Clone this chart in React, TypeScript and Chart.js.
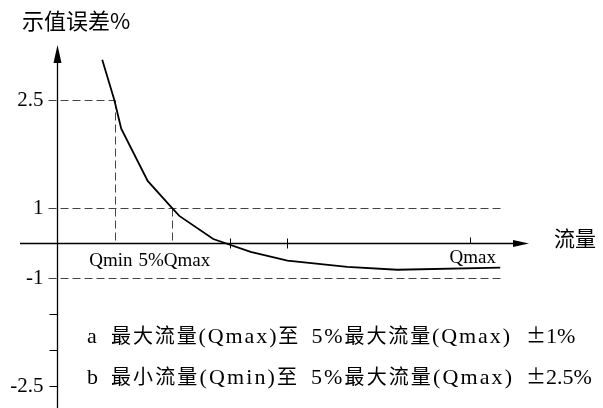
import React, { useEffect, useRef } from 'react';
import { Chart, registerables, LinearScale } from 'chart.js';

Chart.register(...registerables);

// ---- data ----
const flowRate = [0.78, 0.99, 1.11, 1.57, 1.98, 2.12, 2.71, 3.36, 4.0, 5.04, 5.91, 7.7];
const errorPct = [3.06, 2.5, 2.1, 1.375, 1.01, 0.77, 0.11, -0.26, -0.51, -0.69, -0.77, -0.71];

const yTickValues = [2.5, 1, -1, -2.5];
const yTickLabels = ['2.5', '1', '-1', '-2.5'];
const yMinorTicks = [-1.5, -2];

const qMin = 1;
const q5Max = 2;
const qMax = 7.17;
const xPlainTicks = [3, 4];
const xTickLabels = ['Qmin', '5%Qmax', 'Qmax'];
const xTickLabelValues = [qMin, q5Max, qMax];

const limitInner = 1;
const limitOuter = 2.5;
const limitLineEnd = 7.7;

const titleY = '示值误差%';
const titleX = '流量';
const noteAKey = 'a';
const noteARange = '最大流量(Qmax)至 5%最大流量(Qmax)';
const noteATol = '±1%';
const noteBKey = 'b';
const noteBRange = '最小流量(Qmin)至 5%最大流量(Qmax)';
const noteBTol = '±2.5%';

// ---- piecewise (schematic) scale ----
class PiecewiseScale extends LinearScale {
  static id = 'piecewise';
  static defaults = LinearScale.defaults;
  _tf(v: number) {
    const r = (this.options as any).innerRatio ?? 1;
    const a = Math.abs(v);
    const s = v < 0 ? -1 : 1;
    return a <= 1 ? v * r : s * (r + a - 1);
  }
  getPixelForValue(value: number) {
    const t0 = this._tf(this.min);
    const t1 = this._tf(this.max);
    return this.getPixelForDecimal((this._tf(value) - t0) / (t1 - t0));
  }
  getValueForPixel(pixel: number) {
    const r = (this.options as any).innerRatio ?? 1;
    const t0 = this._tf(this.min);
    const t1 = this._tf(this.max);
    const t = t0 + this.getDecimalForPixel(pixel) * (t1 - t0);
    const a = Math.abs(t);
    const s = t < 0 ? -1 : 1;
    return a <= r ? t / r : s * (a - r + 1);
  }
}
Chart.register(PiecewiseScale as any);

const SERIF = '"Liberation Serif", "Times New Roman", serif';
const CJK = '"Noto Sans CJK SC", sans-serif';
const LATIN_NOTE = `22px ${SERIF}`;
const CJK_NOTE = `20px ${CJK}`;

const isWide = (c: string) => c.charCodeAt(0) > 0x2e80 || c === '±';

function mixedText(ctx: CanvasRenderingContext2D, text: string, x0: number, y: number, x1?: number) {
  const chars = Array.from(text);
  const fonts = chars.map((c) => (isWide(c) ? CJK_NOTE : LATIN_NOTE));
  const widths = chars.map((c, i) => {
    ctx.font = fonts[i];
    return ctx.measureText(c).width;
  });
  const natural = widths.reduce((a, b) => a + b, 0);
  const weights = chars.map((c) => (c === ' ' ? 3 : 1));
  weights[weights.length - 1] = 0;
  const totalW = weights.reduce((a, b) => a + b, 0);
  const extra = x1 !== undefined ? x1 - x0 - natural : 0;
  let x = x0;
  ctx.textAlign = 'left';
  chars.forEach((c, i) => {
    ctx.font = fonts[i];
    ctx.fillText(c, x, y);
    x += widths[i] + (totalW > 0 ? (extra * weights[i]) / totalW : 0);
  });
}

const decorPlugin = {
  id: 'decor',
  beforeDatasetsDraw(chart: any) {
    const ctx = chart.ctx as CanvasRenderingContext2D;
    const xs = chart.scales.x;
    const ys = chart.scales.y;
    const X = (v: number) => xs.getPixelForValue(v);
    const Y = (v: number) => ys.getPixelForValue(v);
    const x0 = X(0);
    const y0 = Y(0);
    const dashLeft = x0 - 9;
    ctx.save();

    // dashed reference lines
    ctx.strokeStyle = '#444';
    ctx.lineWidth = 1;
    ctx.setLineDash([8, 4]);
    const seg = (ax: number, ay: number, bx: number, by: number) => {
      ctx.beginPath();
      ctx.moveTo(Math.round(ax) + 0.5, Math.round(ay) + 0.5);
      ctx.lineTo(Math.round(bx) + 0.5, Math.round(by) + 0.5);
      ctx.stroke();
    };
    seg(dashLeft, Y(limitOuter), X(qMin), Y(limitOuter));
    seg(dashLeft, Y(limitInner), X(limitLineEnd), Y(limitInner));
    seg(dashLeft, Y(-limitInner), X(limitLineEnd), Y(-limitInner));
    seg(X(qMin), Y(limitOuter), X(qMin), y0);
    seg(X(q5Max), Y(limitInner), X(q5Max), y0);
    ctx.setLineDash([]);

    // axes
    ctx.strokeStyle = '#000';
    ctx.fillStyle = '#000';
    ctx.lineWidth = 1.3;
    const yTop = chart.chartArea.top;
    ctx.beginPath();
    ctx.moveTo(Math.round(x0) + 0.5, yTop + 10);
    ctx.lineTo(Math.round(x0) + 0.5, chart.chartArea.bottom);
    ctx.stroke();
    ctx.beginPath();
    ctx.moveTo(Math.round(x0) + 0.5, yTop);
    ctx.lineTo(Math.round(x0) + 0.5 - 4, yTop + 18);
    ctx.lineTo(Math.round(x0) + 0.5 + 4, yTop + 18);
    ctx.closePath();
    ctx.fill();

    const xRight = chart.chartArea.right;
    ctx.beginPath();
    ctx.moveTo(chart.chartArea.left, Math.round(y0) + 0.5);
    ctx.lineTo(xRight - 8, Math.round(y0) + 0.5);
    ctx.stroke();
    ctx.beginPath();
    ctx.moveTo(xRight, Math.round(y0) + 0.5);
    ctx.lineTo(xRight - 16, Math.round(y0) + 0.5 - 3.5);
    ctx.lineTo(xRight - 16, Math.round(y0) + 0.5 + 3.5);
    ctx.closePath();
    ctx.fill();

    // ticks
    ctx.lineWidth = 1;
    for (const v of yMinorTicks) {
      seg(x0 - 8, Y(v), x0, Y(v));
    }
    seg(x0 - 8, Y(-2.5), x0, Y(-2.5));
    for (const v of xPlainTicks) {
      seg(X(v), y0 - 5, X(v), y0 + 5);
    }
    seg(X(qMax), y0 - 6, X(qMax), y0);

    // y tick labels
    ctx.font = `21px ${SERIF}`;
    ctx.textAlign = 'right';
    ctx.textBaseline = 'middle';
    yTickValues.forEach((v, i) => {
      ctx.fillText(yTickLabels[i], x0 - 14, Y(v) + 1);
    });

    // x tick labels
    ctx.font = `19px ${SERIF}`;
    ctx.textAlign = 'center';
    ctx.textBaseline = 'alphabetic';
    xTickLabelValues.forEach((v, i) => {
      const dx = i === 0 ? -4 : i === 2 ? 3 : 2;
      ctx.fillText(xTickLabels[i], X(v) + dx, i === 2 ? y0 + 20 : y0 + 23);
    });

    // titles
    ctx.font = `22px ${CJK}`;
    ctx.textAlign = 'left';
    ctx.textBaseline = 'middle';
    ctx.fillText(titleY, 22, 21);
    ctx.font = `21px ${CJK}`;
    ctx.fillText(titleX, xRight + 25, y0 - 5);

    // notes
    ctx.textBaseline = 'alphabetic';
    mixedText(ctx, noteAKey, 87, 343);
    mixedText(ctx, noteARange, 111, 343, 510);
    mixedText(ctx, noteATol, 526, 343);
    mixedText(ctx, noteBKey, 87, 384);
    mixedText(ctx, noteBRange, 111, 384, 512);
    mixedText(ctx, noteBTol, 526, 384);
    ctx.restore();
  },
};

export default function App() {
  const ref = useRef<HTMLCanvasElement | null>(null);
  useEffect(() => {
    document.body.style.margin = '0';
    const canvas = ref.current!;
    const chart = new Chart(canvas, {
      type: 'line',
      data: {
        datasets: [
          {
            data: flowRate.map((x, i) => ({ x, y: errorPct[i] })),
            borderColor: '#000',
            borderWidth: 1.8,
            pointRadius: 0,
            tension: 0,
            fill: false,
          },
        ],
      },
      options: {
        animation: false,
        responsive: false,
        devicePixelRatio: 1,
        layout: { padding: { left: 20, right: 74, top: 45, bottom: 0 } },
        plugins: { legend: { display: false }, tooltip: { enabled: false } },
        scales: {
          x: { type: 'linear', min: -0.65, max: 8.2, display: false },
          y: { type: 'piecewise' as any, min: -2.81, max: 3.264, display: false, innerRatio: 0.486 } as any,
        },
      },
      plugins: [decorPlugin],
    });
    return () => chart.destroy();
  }, []);
  return (
    <div style={{ width: 603, height: 408, background: '#fff' }}>
      <canvas ref={ref} width={603} height={408} style={{ display: 'block' }} />
    </div>
  );
}
